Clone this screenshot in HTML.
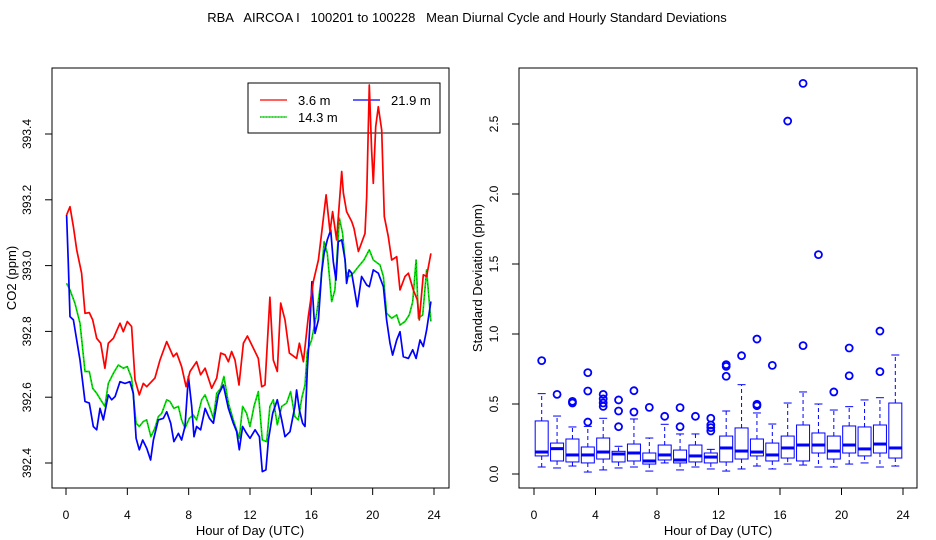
<!DOCTYPE html>
<html><head><meta charset="utf-8"><style>
html,body{margin:0;padding:0;background:#fff;}
svg{display:block;font-family:"Liberation Sans",sans-serif;}
</style></head><body>
<svg id="chart" width="936" height="540" viewBox="0 0 936 540">
<text x="467" y="22" text-anchor="middle" font-size="13" style="white-space:pre" xml:space="preserve">RBA   AIRCOA I   100201 to 100228   Mean Diurnal Cycle and Hourly Standard Deviations</text>
<g id="left"></g>
<g id="right"></g>
</svg>
<script>
const NS="http://www.w3.org/2000/svg";
// ---- Left panel data ----
const redHours=[0.04,0.26,0.48,0.70,1.02,1.24,1.52,1.74,2.00,2.26,2.54,2.76,3.09,3.52,3.74,4.00,4.28,4.50,4.78,5.04,5.26,5.80,6.13,6.57,7.00,7.22,7.54,7.83,8.09,8.52,8.78,9.07,9.50,9.83,10.09,10.37,10.59,10.80,11.02,11.28,11.57,11.83,12.22,12.54,12.76,12.98,13.30,13.52,13.78,14.00,14.28,14.57,15.04,15.22,15.48,15.80,16.13,16.46,16.67,16.96,17.22,17.39,17.65,17.98,18.09,18.30,18.63,18.78,19.07,19.50,19.61,19.78,19.93,20.04,20.20,20.37,20.59,20.76,21.02,21.24,21.57,21.78,22.11,22.33,22.65,22.91,23.04,23.30,23.52,23.80];
const redValues=[393.154,393.179,393.118,393.048,392.977,392.855,392.857,392.835,392.779,392.764,392.688,392.764,392.779,392.825,392.799,392.830,392.815,392.653,392.607,392.642,392.632,392.658,392.713,392.769,392.723,392.734,392.693,392.632,392.678,392.708,392.668,392.688,392.627,392.658,392.734,392.729,392.708,392.739,392.713,392.637,392.764,392.786,392.749,392.718,392.632,392.637,392.904,392.713,392.678,392.886,392.835,392.734,392.718,392.764,392.708,392.845,392.951,393.017,393.098,393.215,393.103,393.164,393.078,393.286,393.220,393.164,393.134,393.113,393.043,393.098,393.210,393.549,393.352,393.250,393.422,393.483,393.412,393.149,393.088,393.017,393.027,392.926,392.967,392.977,392.926,392.896,392.835,392.972,392.967,393.037];
const greenHours=[0.04,0.26,0.59,0.91,1.24,1.52,1.74,2.00,2.26,2.54,2.76,3.09,3.41,3.74,4.00,4.28,4.57,4.78,5.04,5.26,5.54,5.80,6.02,6.24,6.57,6.78,7.04,7.33,7.54,7.76,8.04,8.30,8.52,8.85,9.07,9.35,9.61,9.83,10.09,10.30,10.59,10.91,11.30,11.52,11.78,12.00,12.26,12.54,12.80,13.09,13.30,13.52,13.78,14.07,14.39,14.65,14.93,15.15,15.37,15.59,15.74,16.02,16.35,16.61,16.83,17.04,17.33,17.54,17.83,18.04,18.26,18.48,18.74,19.07,19.43,19.78,20.04,20.48,20.70,20.91,21.24,21.57,21.78,22.11,22.39,22.61,22.83,22.98,23.26,23.52,23.80];
const greenValues=[392.946,392.926,392.885,392.825,392.678,392.678,392.627,392.612,392.592,392.572,392.642,392.673,392.698,392.688,392.693,392.658,392.521,392.511,392.526,392.531,392.480,392.506,392.541,392.551,392.592,392.587,392.566,392.572,392.531,392.506,392.536,392.546,392.531,392.592,392.607,392.572,392.536,392.612,392.627,392.663,392.582,392.531,392.475,392.572,392.551,392.511,392.572,392.617,392.470,392.465,392.572,392.592,392.516,392.572,392.582,392.617,392.541,392.531,392.597,392.637,392.739,392.774,392.855,392.946,393.073,393.037,392.891,392.926,393.144,393.098,392.982,392.967,392.977,392.997,393.017,393.048,393.017,393.002,392.967,392.855,392.840,392.850,392.819,392.830,392.850,392.890,393.017,392.840,392.850,392.987,392.830];
const blueHours=[0.04,0.15,0.26,0.48,0.70,0.91,1.24,1.52,1.78,2.00,2.22,2.43,2.76,2.98,3.20,3.52,3.85,4.17,4.39,4.57,4.78,5.00,5.26,5.52,5.70,6.02,6.35,6.57,6.83,7.04,7.33,7.54,7.76,7.98,8.20,8.35,8.52,8.78,9.07,9.35,9.61,9.93,10.26,10.59,10.91,11.13,11.30,11.52,11.78,12.00,12.33,12.61,12.80,13.04,13.20,13.48,13.78,14.07,14.28,14.61,14.93,15.04,15.22,15.43,15.59,15.74,15.91,16.04,16.24,16.46,16.67,16.83,17.04,17.26,17.43,17.61,17.76,17.98,18.20,18.30,18.46,18.63,18.78,19.00,19.28,19.61,19.78,20.04,20.37,20.70,20.91,21.13,21.30,21.57,21.78,22.00,22.33,22.61,22.83,23.09,23.30,23.52,23.80];
const blueValues=[393.154,393.007,392.845,392.835,392.774,392.713,392.587,392.582,392.511,392.501,392.566,392.531,392.607,392.592,392.602,392.647,392.642,392.647,392.612,392.475,392.440,392.470,392.445,392.409,392.470,392.531,392.536,392.556,392.521,392.465,392.490,392.470,392.511,392.663,392.572,392.480,392.511,392.501,392.566,392.536,392.521,392.607,392.637,392.566,392.521,392.495,392.440,392.511,392.490,392.475,392.501,392.480,392.374,392.379,392.470,392.551,392.592,392.531,392.480,392.495,392.572,392.622,392.561,392.521,392.511,392.683,392.825,392.951,392.794,392.835,392.977,393.037,393.078,393.108,393.012,392.956,393.073,393.078,393.017,392.946,392.987,392.977,392.936,392.875,392.967,392.941,392.936,392.987,392.977,392.936,392.835,392.764,392.728,392.774,392.799,392.723,392.718,392.744,392.718,392.774,392.754,392.804,392.891];
const leftYTicks=[392.4,392.6,392.8,393.0,393.2,393.4];
const xTicks=[0,4,8,12,16,20,24];
// ---- Right panel data ----
const boxHours=[0.5,1.5,2.5,3.5,4.5,5.5,6.5,7.5,8.5,9.5,10.5,11.5,12.5,13.5,14.5,15.5,16.5,17.5,18.5,19.5,20.5,21.5,22.5,23.5];
const boxQ1=[0.129,0.093,0.086,0.079,0.107,0.086,0.093,0.071,0.100,0.079,0.086,0.079,0.086,0.107,0.129,0.093,0.114,0.093,0.150,0.107,0.150,0.129,0.150,0.114];
const boxMedian=[0.157,0.181,0.136,0.136,0.157,0.143,0.150,0.093,0.136,0.100,0.129,0.121,0.186,0.164,0.157,0.136,0.186,0.207,0.207,0.164,0.207,0.179,0.214,0.186];
const boxQ3=[0.379,0.221,0.250,0.193,0.257,0.162,0.214,0.150,0.207,0.171,0.207,0.150,0.271,0.329,0.250,0.221,0.271,0.350,0.293,0.271,0.343,0.336,0.350,0.507];
const boxLowerWhisker=[0.050,0.043,0.057,0.014,0.029,0.043,0.050,0.021,0.079,0.029,0.050,0.036,0.021,0.036,0.057,0.036,0.071,0.064,0.050,0.050,0.071,0.079,0.050,0.057];
const boxUpperWhisker=[0.574,0.414,0.336,0.340,0.398,0.198,0.393,0.257,0.355,0.286,0.286,0.176,0.450,0.638,0.436,0.357,0.507,0.586,0.500,0.457,0.481,0.529,0.545,0.850];
const outlierHourIndex=[0,1,2,2,3,3,3,4,4,4,4,5,5,5,6,6,7,8,9,9,10,11,11,11,11,12,12,12,13,14,14,14,15,16,17,17,18,19,20,20,22,22];
const outlierValues=[0.810,0.569,0.519,0.507,0.724,0.593,0.371,0.569,0.536,0.507,0.483,0.529,0.450,0.338,0.595,0.443,0.476,0.412,0.474,0.338,0.412,0.398,0.350,0.331,0.307,0.781,0.769,0.698,0.845,0.964,0.498,0.488,0.776,2.521,2.790,0.917,1.567,0.586,0.900,0.702,1.021,0.731];
const rightYTicks=[0.0,0.5,1.0,1.5,2.0,2.5];

function el(tag,attrs,parent){const e=document.createElementNS(NS,tag);for(const k in attrs)e.setAttribute(k,attrs[k]);parent.appendChild(e);return e;}

// Left axes
const L={x0:52,x1:449,y0:68,y1:488};
const lx=h=>66+(h-0)*(434-66)/24;
const ly=v=>463-(v-392.4)*(463-134)/1.0;
const left=document.getElementById('left');
let fr=el('rect',{x:L.x0,y:L.y0,width:L.x1-L.x0,height:L.y1-L.y0,fill:'none',stroke:'#000','stroke-width':1},left);


leftYTicks.forEach(v=>{
  const t=el('line',{x1:L.x0,x2:L.x0-7,y1:ly(v),y2:ly(v),stroke:'#000'},left);
  
  
  const tx=el('text',{x:0,y:0,'font-size':12,'text-anchor':'middle',transform:`translate(31,${ly(v)}) rotate(-90)`},left);
  tx.textContent=v.toFixed(1);
  
  
});
xTicks.forEach(h=>{
  const t=el('line',{x1:lx(h),x2:lx(h),y1:L.y1,y2:L.y1+7,stroke:'#000'},left);
  
  
  const tx=el('text',{x:lx(h),y:519,'font-size':12,'text-anchor':'middle'},left);
  tx.textContent=h;
  
  
});
let xt=el('text',{x:250,y:535,'font-size':13,'text-anchor':'middle'},left);xt.textContent='Hour of Day (UTC)';


let yt=el('text',{x:0,y:0,'font-size':13,'text-anchor':'middle',transform:'translate(16,278) rotate(-90)'},left);yt.textContent='CO2 (ppm)';



// legend
const lg=el('g',{},left);


el('rect',{x:248,y:83,width:192,height:50,fill:'#fff',stroke:'#000'},lg);
const legendItems=[['3.6 m','#f00',260,100],['21.9 m','#00f',353,100],['14.3 m','#0d0',260,117]];
legendItems.forEach(([lab,c,x,y])=>{
  const g=el('g',{},lg);
  
  
  el('line',{x1:x,x2:x+27,y1:y,y2:y,stroke:c,'stroke-width':1.3},g);
  if(lab==='14.3 m')el('line',{x1:x,x2:x+27,y1:y,y2:y,stroke:'#000','stroke-width':0.4,'stroke-dasharray':'1,2'},g);
  const t=el('text',{x:x+38,y:y+5,'font-size':13},g);t.textContent=lab;
});

function series(hours,vals,color,name,dotted){
  const pts=hours.map((h,i)=>lx(h).toFixed(1)+','+ly(vals[i]).toFixed(1)).join(' ');
  const p=el('polyline',{points:pts,fill:'none',stroke:color,'stroke-width':1.7,'stroke-linejoin':'round'},left);
  
  
  if(dotted){const d=el('polyline',{points:pts,fill:'none',stroke:'#000','stroke-width':0.4,'stroke-dasharray':'1,3'},left);
    
    }
}
series(greenHours,greenValues,'#0d0','line-14-3m',true);
series(blueHours,blueValues,'#00f','line-21-9m',false);
series(redHours,redValues,'#f00','line-3-6m',false);

// Right panel
const R={x0:519,x1:917,y0:68,y1:488};
const rx=h=>534+h*(903-534)/24;
const ry=v=>474-v*140;
const right=document.getElementById('right');
let fr2=el('rect',{x:R.x0,y:R.y0,width:R.x1-R.x0,height:R.y1-R.y0,fill:'none',stroke:'#000'},right);


rightYTicks.forEach(v=>{
  const t=el('line',{x1:R.x0,x2:R.x0-7,y1:ry(v),y2:ry(v),stroke:'#000'},right);
  
  
  const tx=el('text',{x:0,y:0,'font-size':12,'text-anchor':'middle',transform:`translate(498,${ry(v)}) rotate(-90)`},right);
  tx.textContent=v.toFixed(1);
  
  
});
xTicks.forEach(h=>{
  const t=el('line',{x1:rx(h),x2:rx(h),y1:R.y1,y2:R.y1+7,stroke:'#000'},right);
  
  
  const tx=el('text',{x:rx(h),y:519,'font-size':12,'text-anchor':'middle'},right);
  tx.textContent=h;
  
  
});
let xt2=el('text',{x:718,y:535,'font-size':13,'text-anchor':'middle'},right);xt2.textContent='Hour of Day (UTC)';


let yt2=el('text',{x:0,y:0,'font-size':13,'text-anchor':'middle',transform:'translate(482,278) rotate(-90)'},right);yt2.textContent='Standard Deviation (ppm)';



const BC='#00f';
boxHours.forEach((h,i)=>{
  const g=el('g',{},right);
  
  
  const cx=rx(h),w=6.5;
  el('line',{x1:cx,x2:cx,y1:ry(boxQ3[i]),y2:ry(boxUpperWhisker[i]),stroke:BC,'stroke-dasharray':'4,3'},g);
  el('line',{x1:cx,x2:cx,y1:ry(boxQ1[i]),y2:ry(boxLowerWhisker[i]),stroke:BC,'stroke-dasharray':'4,3'},g);
  el('line',{x1:cx-4,x2:cx+4,y1:ry(boxUpperWhisker[i]),y2:ry(boxUpperWhisker[i]),stroke:BC},g);
  el('line',{x1:cx-4,x2:cx+4,y1:ry(boxLowerWhisker[i]),y2:ry(boxLowerWhisker[i]),stroke:BC},g);
  el('rect',{x:cx-w,y:ry(boxQ3[i]),width:2*w,height:ry(boxQ1[i])-ry(boxQ3[i]),fill:'none',stroke:BC},g);
  el('line',{x1:cx-w,x2:cx+w,y1:ry(boxMedian[i]),y2:ry(boxMedian[i]),stroke:BC,'stroke-width':3},g);
});
outlierValues.forEach((v,k)=>{
  const c=el('circle',{cx:rx(boxHours[outlierHourIndex[k]]),cy:ry(v),r:3.5,fill:'none',stroke:BC,'stroke-width':1.8},right);
  
  
});
</script>
</body></html>
